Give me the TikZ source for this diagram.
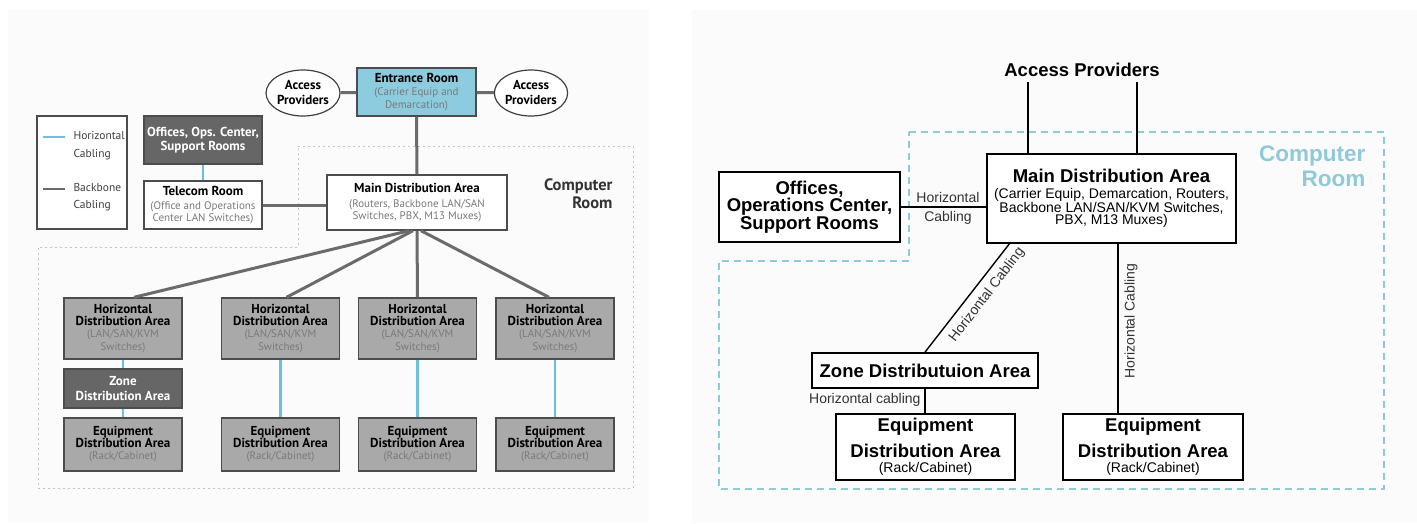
\documentclass[tikz,border=0pt]{standalone}
\usepackage{fontspec}
\setmainfont{Liberation Sans}
\newfontfamily\ptsans{PT Sans}
\usetikzlibrary{shapes.geometric}

\definecolor{panelbg}{HTML}{FBFBFB}
\definecolor{roomblue}{HTML}{8FCADB}
\definecolor{hblue}{HTML}{6EC1DC}
\definecolor{entblue}{HTML}{8DCBDF}
\definecolor{boxgray}{HTML}{A9A9A9}
\definecolor{darkbox}{HTML}{666666}
\definecolor{bbgray}{HTML}{6B6B6B}
\definecolor{subgray}{HTML}{7A7A7A}
\definecolor{dotgray}{HTML}{C4C4C4}

\newcommand\lhead{\ptsans\bfseries\fontsize{13}{13}\selectfont}
\newcommand\lsub{\ptsans\fontsize{11}{13}\selectfont\color{subgray}}
\newcommand\rhead{\bfseries\fontsize{18.5}{19}\selectfont}
\newcommand\rsub{\fontsize{14}{14.5}\selectfont}
\newcommand\rlabel{\fontsize{14}{19}\selectfont\color{black!80}}

\tikzset{
  lbox/.style={draw=black!70, line width=1.4pt, align=center, inner sep=0pt,
    minimum width=118pt},
  ebox/.style={lbox, fill=boxgray},
  rbox/.style={draw=black, line width=1.8pt, align=center, inner sep=0pt},
  backbone/.style={draw=bbgray, line width=3pt},
  horiz/.style={draw=hblue, line width=2.5pt},
  rline/.style={draw=black, line width=1.4pt},
  provider/.style={ellipse, draw=black!75, line width=1.2pt, fill=white, inner sep=0pt,
    align=center, font=\lhead}
}

\begin{document}
\begin{tikzpicture}[x=1pt, y=-1pt]
\useasboundingbox (0,0) rectangle (1417,523);
\fill[panelbg] (8,9) rectangle (649,523);
\fill[panelbg] (692,10) rectangle (1417,523);

% left panel
\draw[dotgray, line width=1pt, dash pattern=on 2pt off 3pt]
  (298,146) -- (633,146) -- (633,488) -- (38,488) -- (38,247) -- (298,247) -- cycle;
\node[align=right, anchor=east, font=\ptsans\bfseries\fontsize{16.5}{18}\selectfont, text=black!80]
  (roomL) at (616,194) {Computer\\Room};

\draw[draw=black!70, line width=1.4pt, fill=white] (37,116) rectangle (127,229);
\coordinate (legH1) at (43,137);
\coordinate (legH2) at (65,137);
\coordinate (legB1) at (43,189);
\coordinate (legB2) at (65,189);
\draw[horiz, line width=2pt] (legH1) -- (legH2);
\draw[backbone, line width=2pt] (legB1) -- (legB2);
\node[anchor=west, align=left, font=\ptsans\fontsize{11.5}{18}\selectfont, text=black!75]
  (legH) at (70,146) {Horizontal\\Cabling};
\node[anchor=west, align=left, font=\ptsans\fontsize{11.5}{17}\selectfont, text=black!75]
  (legB) at (70,197.5) {Backbone\\Cabling};

\node[lbox, fill=darkbox, minimum height=48pt, text=white] (offL) at (203,140)
  {\lhead Offices, Ops. Center,\\[2pt] \lhead Support Rooms};
\node[lbox, fill=white, minimum height=48pt] (telco) at (203,205)
  {\lhead Telecom Room\\[2pt] \lsub (Office and Operations\\ \lsub Center LAN Switches)};
\node[lbox, fill=white, minimum width=180pt, minimum height=55pt] (mdaL) at (417,202.5)
  {\lhead Main Distribution Area\\[3pt] \lsub (Routers, Backbone LAN/SAN\\ \lsub Switches, PBX, M13 Muxes)};
\node[lbox, fill=entblue, minimum width=119pt, minimum height=48pt] (entr) at (416.5,92)
  {\lhead Entrance Room\\[1pt] \lsub (Carrier Equip and\\[1pt] \lsub Demarcation)};
\node[provider, minimum width=74pt, minimum height=46pt] (apL) at (303,93) {Access\\[2pt]Providers};
\node[provider, minimum width=72pt, minimum height=46pt] (apR) at (531,93) {Access\\[2pt]Providers};

\foreach \i/\x in {1/123,2/280.5,3/417.5,4/555} {
  \node[ebox, minimum height=61pt] (hda\i) at (\x,328.5)
    {\lhead Horizontal\\ \lhead Distribution Area\\ \lsub (LAN/SAN/KVM\\[1pt] \lsub Switches)};
  \node[ebox, minimum height=53pt] (eda\i) at (\x,444.5)
    {\lhead Equipment\\ \lhead Distribution Area\\ \lsub (Rack/Cabinet)};
}
\node[lbox, fill=darkbox, minimum height=39pt, text=white] (zoneL) at (123,388.5)
  {\lhead Zone\\[3pt] \lhead Distribution Area};

\draw[backbone] (apL) -- (entr);
\draw[backbone] (entr) -- (apR);
\draw[backbone] (entr) -- (mdaL);
\draw[backbone] (telco.east) -- (telco.east -| mdaL.west);
\foreach \i/\sx/\ex in {1/-8/11,2/-4/6,3/0/0,4/4/-6}
  \draw[backbone] ([xshift=\sx pt]mdaL.south) -- ([xshift=\ex pt]hda\i.north);
\draw[horiz] (offL) -- (telco);
\draw[horiz] (hda1) -- (zoneL);
\draw[horiz] (zoneL) -- (eda1);
\foreach \i in {2,3,4} \draw[horiz] (hda\i) -- (eda\i);

% right panel
\draw[roomblue, line width=2pt, dash pattern=on 7pt off 5pt]
  (909,132) -- (1384,132) -- (1384,489) -- (719,489) -- (719,261) -- (909,261) -- cycle;
\node[align=right, anchor=east, font=\bfseries\fontsize{22.5}{25}\selectfont, text=roomblue]
  (roomR) at (1369,166) {Computer\\Room};

\node[font=\rhead] (apTxt) at (1082,70) {Access Providers};
\node[rbox, fill=white, minimum width=249pt, minimum height=89pt] (mdaR) at (1111.5,198.5)
  {\rhead Main Distribution Area\\[3.5pt] \rsub (Carrier Equip, Demarcation, Routers,\\ \rsub Backbone LAN/SAN/KVM Switches,\\ \rsub PBX, M13 Muxes)};
\node[rbox, fill=white, minimum width=181pt, minimum height=70pt] (offR) at (809.5,207)
  {\rhead Offices,\\ \rhead Operations Center,\\ \rhead Support Rooms};
\node[rbox, fill=white, minimum width=226pt, minimum height=35pt] (zoneR) at (925,370.5)
  {\rhead Zone Distributuion Area};
\node[rbox, fill=white, minimum width=179pt, minimum height=66pt] (edaR1) at (925.5,447)
  {\rhead Equipment\\[7.5pt] \rhead Distribution Area\\[3pt] \rsub (Rack/Cabinet)};
\node[rbox, fill=white, minimum width=180pt, minimum height=66pt] (edaR2) at (1153,447)
  {\rhead Equipment\\[7.5pt] \rhead Distribution Area\\[3pt] \rsub (Rack/Cabinet)};

\coordinate (ap1) at (1028,82);
\coordinate (ap2) at (1137,82);
\coordinate (zd) at (1010,243);
\coordinate (vd) at (1118,243);
\draw[rline] (ap1) -- (ap1 |- mdaR.north);
\draw[rline] (ap2) -- (ap2 |- mdaR.north);
\draw[rline] (offR.east) -- (offR.east -| mdaR.west);
\node[align=center, font=\rlabel] (hcOff) at (948,208) {Horizontal\\Cabling};
\draw[rline] (zd) -- (zoneR.north);
\draw[rline] (vd) -- (vd |- edaR2.north);
\draw[rline] (zoneR.south) -- (zoneR.south |- edaR1.north);
\node[rotate=52.7, font=\rlabel, inner sep=0pt] (hcZone) at (987,295) {Horizontal Cabling};
\node[rotate=90, font=\rlabel, inner sep=0pt] (hcEda) at (1131,321) {Horizontal Cabling};
\node[anchor=east, font=\rlabel] (hcEq) at (924,400) {Horizontal cabling};
\end{tikzpicture}
\end{document}
